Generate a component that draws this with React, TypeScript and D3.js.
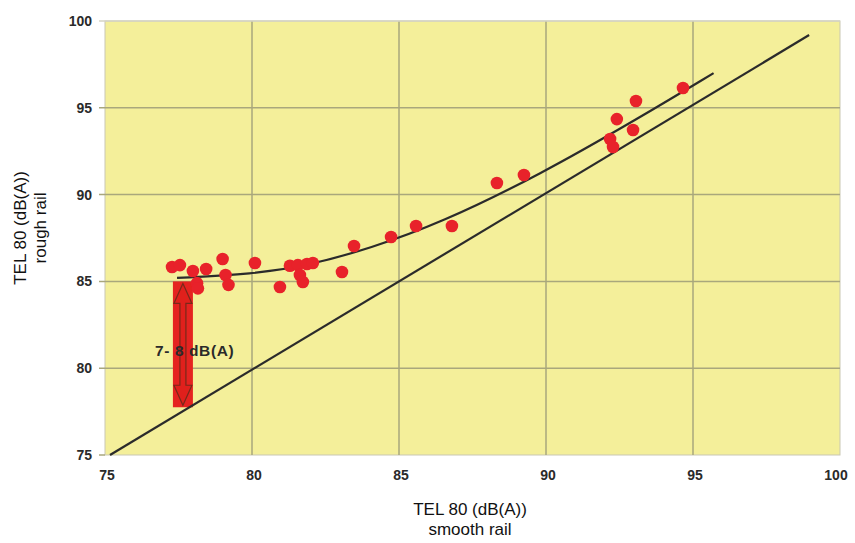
import React, { useRef, useEffect } from 'react';
import * as d3 from 'd3';

// measured points: TEL 80 smooth rail (x) vs rough rail (y)
const smoothRail = [
  77.28, 77.55, 77.99, 78.44, 79.0, 79.1, 79.2, 78.13, 78.16, 80.1,
  80.95, 81.29, 81.56, 81.63, 81.73, 81.87, 82.07, 83.06, 83.47, 84.73,
  85.58, 86.8, 88.33, 89.25, 94.66, 93.06, 92.41, 92.96, 92.18, 92.28,
];
const roughRail = [
  85.83, 85.94, 85.6, 85.71, 86.29, 85.37, 84.8, 84.9, 84.6, 86.06,
  84.68, 85.9, 85.94, 85.37, 84.97, 86.0, 86.06, 85.54, 87.04, 87.56,
  88.19, 88.19, 90.67, 91.13, 96.14, 95.39, 94.35, 93.72, 93.2, 92.74,
];

// fitted curve through rough rail values
const fitX = [77.45, 80.0, 82.0, 84.0, 86.4, 89.8, 93.2, 95.7];
const fitY = [85.2, 85.4, 85.95, 86.9, 88.35, 91.15, 94.45, 97.0];

// reference line (rough = smooth)
const refX = [75.17, 98.95];
const refY = [75.0, 99.19];

// level difference marker
const gapX = 77.65;
const gapTop = 85.0;
const gapBottom = 77.75;
const gapLabel = '7- 8 dB(A)';

const ticks = [75, 80, 85, 90, 95, 100];

export default function App() {
  const svgRef = useRef<SVGSVGElement>(null);

  useEffect(() => {
    const width = 855;
    const height = 543;
    const left = 105, right = 840, top = 21, bottom = 455;

    const svg = d3.select(svgRef.current);
    svg.selectAll('*').remove();

    const x = d3.scaleLinear().domain([75, 100]).range([left, right]);
    const y = d3.scaleLinear().domain([75, 100]).range([bottom, top]);

    // plot background
    svg.append('rect')
      .attr('x', left).attr('y', top)
      .attr('width', right - left).attr('height', bottom - top)
      .attr('fill', '#F4EF9A')
      .attr('stroke', '#C9C7B4')
      .attr('stroke-width', 1);

    // grid
    const grid = svg.append('g');
    ticks.forEach(t => {
      if (t > 75 && t < 100) {
        grid.append('line')
          .attr('x1', x(t)).attr('x2', x(t))
          .attr('y1', top).attr('y2', bottom)
          .attr('stroke', '#A9A77C').attr('stroke-width', 1.5);
      }
      if (t > 75) {
        grid.append('line')
          .attr('x1', left - 6).attr('x2', right)
          .attr('y1', y(t)).attr('y2', y(t))
          .attr('stroke', t === 100 ? '#D6D4C4' : '#A9A77C').attr('stroke-width', 1.5);
      }
    });
    svg.append('line')
      .attr('x1', left - 6).attr('x2', left)
      .attr('y1', bottom).attr('y2', bottom)
      .attr('stroke', '#A9A77C').attr('stroke-width', 1.5);

    // tick labels
    const lab = svg.append('g')
      .style('font-family', 'Arial, "Liberation Sans", sans-serif')
      .style('font-weight', 'bold')
      .style('font-size', '14px')
      .attr('fill', '#2A2A2A');
    ticks.forEach(t => {
      lab.append('text')
        .attr('x', left - 13).attr('y', y(t))
        .attr('dy', '0.35em')
        .attr('text-anchor', 'end')
        .text(t);
      lab.append('text')
        .attr('x', t === 100 ? x(t) - 4 : x(t) + 2).attr('y', bottom + 25)
        .attr('text-anchor', 'middle')
        .text(t);
    });

    // axis titles
    const titles = svg.append('g')
      .style('font-family', 'Arial, "Liberation Sans", sans-serif')
      .style('font-size', '17px')
      .attr('fill', '#111');
    titles.append('text').attr('x', 470).attr('y', 515).attr('text-anchor', 'middle').text('TEL 80 (dB(A))');
    titles.append('text').attr('x', 470).attr('y', 535).attr('text-anchor', 'middle').text('smooth rail');
    titles.append('text')
      .attr('transform', 'translate(26,228) rotate(-90)')
      .attr('text-anchor', 'middle').text('TEL 80 (dB(A))');
    titles.append('text')
      .attr('transform', 'translate(46,228) rotate(-90)')
      .attr('text-anchor', 'middle').text('rough rail');

    // red gap bar with double arrow
    const bx = x(gapX);
    const by1 = y(gapTop);
    const by2 = y(gapBottom);
    svg.append('rect')
      .attr('x', bx - 10).attr('y', by1)
      .attr('width', 20).attr('height', by2 - by1)
      .attr('fill', '#E52320');
    const head = 22;
    const arrow = d3.path();
    arrow.moveTo(bx, by1 + 2);
    arrow.lineTo(bx + 9, by1 + head);
    arrow.lineTo(bx + 3, by1 + head);
    arrow.lineTo(bx + 3, by2 - head);
    arrow.lineTo(bx + 9, by2 - head);
    arrow.lineTo(bx, by2 - 2);
    arrow.lineTo(bx - 9, by2 - head);
    arrow.lineTo(bx - 3, by2 - head);
    arrow.lineTo(bx - 3, by1 + head);
    arrow.lineTo(bx - 9, by1 + head);
    arrow.closePath();
    svg.append('path')
      .attr('d', arrow.toString())
      .attr('fill', '#E0201C')
      .attr('stroke', '#6E2A1A')
      .attr('stroke-width', 1.2)
      .attr('opacity', 0.9);

    // reference line
    const line = d3.line<number>()
      .x((d, i) => x(refX[i]))
      .y(d => y(d));
    svg.append('path')
      .datum(refY)
      .attr('d', line)
      .attr('fill', 'none')
      .attr('stroke', '#2B2B2B')
      .attr('stroke-width', 2.2);

    // fitted curve
    const curve = d3.line<number>()
      .x((d, i) => x(fitX[i]))
      .y(d => y(d))
      .curve(d3.curveBasis);
    svg.append('path')
      .datum(fitY)
      .attr('d', curve)
      .attr('fill', 'none')
      .attr('stroke', '#2B2B2B')
      .attr('stroke-width', 2.2);

    // points
    svg.append('g')
      .selectAll('circle')
      .data(smoothRail)
      .join('circle')
      .attr('cx', d => x(d))
      .attr('cy', (d, i) => y(roughRail[i]))
      .attr('r', 6.3)
      .attr('fill', '#E8222A');

    // gap label
    svg.append('text')
      .attr('x', 155).attr('y', 356)
      .style('font-family', 'Arial, "Liberation Sans", sans-serif')
      .style('font-weight', 'bold')
      .style('font-size', '15.5px')
      .style('letter-spacing', '0.6px')
      .attr('fill', '#2A2A2A')
      .text(gapLabel);

    svg.attr('width', width).attr('height', height);
  }, []);

  return (
    <svg
      ref={svgRef}
      width={855}
      height={543}
      style={{ position: 'absolute', left: 0, top: 0, background: '#fff' }}
    />
  );
}
